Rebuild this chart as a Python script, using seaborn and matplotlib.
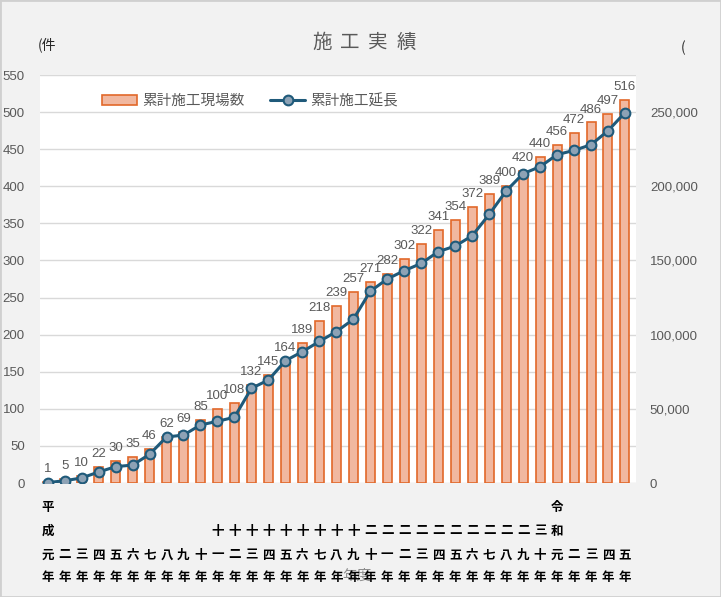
import numpy as np
import pandas as pd
import matplotlib
matplotlib.use("Agg")
import matplotlib.pyplot as plt
import matplotlib.transforms as mtransforms
from matplotlib.patches import Rectangle
from matplotlib.ticker import FuncFormatter, MultipleLocator
import seaborn as sns

# ---------------- data ----------------
TITLE = "施工実績"
LEFT_UNIT = "(件"
RIGHT_UNIT = "("
X_TITLE = "年度"
BAR_NAME = "累計施工現場数"
LINE_NAME = "累計施工延長"

years = ["平成元年", "二年", "三年", "四年", "五年", "六年", "七年", "八年", "九年", "十年",
         "十一年", "十二年", "十三年", "十四年", "十五年", "十六年", "十七年", "十八年", "十九年",
         "二十年", "二一年", "二二年", "二三年", "二四年", "二五年", "二六年", "二七年", "二八年",
         "二九年", "三十年", "令和元年", "二年", "三年", "四年", "五年"]
sites = [1, 5, 10, 22, 30, 35, 46, 62, 69, 85, 100, 108, 132, 145, 164, 189, 218, 239, 257,
         271, 282, 302, 322, 341, 354, 372, 389, 400, 420, 440, 456, 472, 486, 497, 516]
length = [300, 1500, 3400, 7400, 11000, 12100, 19300, 31000, 32300, 39100, 41600, 44300,
          63800, 69400, 82400, 88500, 95400, 102000, 110300, 129200, 137500, 143100, 148000,
          155900, 159700, 166600, 181000, 196800, 208500, 213200, 221300, 224200, 228000,
          237400, 249600]

# ---------------- style ----------------
sns.set_theme(style="white")
plt.rcParams['font.family'] = ['Liberation Sans', 'Noto Sans CJK JP']
CJK = ['Noto Sans CJK JP', 'DejaVu Sans']

W, H = 721, 597
fig = plt.figure(figsize=(W / 100, H / 100), dpi=100, facecolor='#f2f2f2')
ax = fig.add_axes([40 / W, 1 - 483 / H, 596 / W, 408 / H])
ax.set_facecolor('white')

df = pd.DataFrame({'pos': np.arange(len(sites)), 'sites': sites, 'length': length})

bar_fill = '#f1b8a0'
bar_edge = '#e2682a'
line_col = '#1f5a7a'

sns.barplot(data=df, x='pos', y='sites', ax=ax, color=bar_fill, saturation=1,
            edgecolor=bar_edge, linewidth=1.2, width=0.53, label=BAR_NAME, zorder=2)
ax.bar_label(ax.containers[0], labels=[str(v) for v in sites], padding=5,
             fontsize=9.5, color='#595959')

ax.set_ylim(0, 550)
ax.yaxis.set_major_locator(MultipleLocator(50))
ax.set_xlim(-0.45, len(sites) - 0.35)
ax.yaxis.grid(True, color='#d9d9d9', lw=1)
ax.set_axisbelow(True)
for s in ax.spines.values():
    s.set_visible(False)
ax.tick_params(axis='y', length=0, pad=11, labelsize=9.5, labelcolor='#595959')
ax.set_xticks([])
ax.set_xlabel('')
ax.set_ylabel('')

ax2 = ax.twinx()
sns.lineplot(data=df, x='pos', y='length', ax=ax2, color=line_col, linewidth=2.2,
             marker='o', markersize=7, markerfacecolor='#8da2b5',
             markeredgecolor=line_col, markeredgewidth=1.5, label=LINE_NAME, zorder=5)
ax2.set_ylim(0, 275000)
ax2.yaxis.set_major_locator(MultipleLocator(50000))
ax2.yaxis.set_major_formatter(FuncFormatter(lambda v, p: f"{int(v):,}"))
ax2.tick_params(axis='y', length=0, pad=10, labelsize=9.5, labelcolor='#595959')
for s in ax2.spines.values():
    s.set_visible(False)
ax2.set_ylabel('')
ax2.set_xlabel('')
ax2.grid(False)
ax2.set_xlim(ax.get_xlim())

h1, l1 = ax.get_legend_handles_labels()
h2, l2 = ax2.get_legend_handles_labels()
if ax.get_legend():
    ax.get_legend().remove()
if ax2.get_legend():
    ax2.get_legend().remove()
leg = ax2.legend(h1 + h2, l1 + l2, loc='center', bbox_to_anchor=((250 - 40) / 596, (483 - 101) / 408),
                 ncol=2, frameon=False, prop={'family': CJK, 'size': 10.5}, labelcolor='#595959',
                 handlelength=2.4, columnspacing=1.8, handletextpad=0.3)

# x category labels, stacked vertically, bottom aligned
trans = mtransforms.blended_transform_factory(ax.transData, ax.transAxes)
rows_px = [507, 531, 555, 578]
for i, lab in enumerate(years):
    n = len(lab)
    for k, ch in enumerate(lab):
        r = 4 - n + k
        ax.text(i, (483 - rows_px[r]) / 408, ch, transform=trans, ha='center', va='center',
                fontsize=9, fontweight='bold', color='black', family=CJK, clip_on=False)

# title & unit texts
for j, ch in enumerate(TITLE):
    fig.text((364 + (j - 1.5) * 28) / W, 1 - 42 / H, ch, ha='center', va='center',
             fontsize=14, color='#595959', family=CJK)
fig.text(38 / W, 1 - 45 / H, LEFT_UNIT, ha='left', va='center', fontsize=10,
         color='#262626', family=CJK)
fig.text(681 / W, 1 - 48 / H, RIGHT_UNIT, ha='left', va='center', fontsize=10,
         color='#262626', family=CJK)
fig.text(357 / W, 1 - 576 / H, X_TITLE, ha='center', va='center', fontsize=10.5,
         color='#8c8c8c', family=CJK, zorder=-1)

fig.patches.append(Rectangle((0, 0), 1, 1, transform=fig.transFigure, fill=False,
                             edgecolor='#d0d0d0', lw=2))

fig.savefig('out.png', dpi=100, facecolor=fig.get_facecolor())
